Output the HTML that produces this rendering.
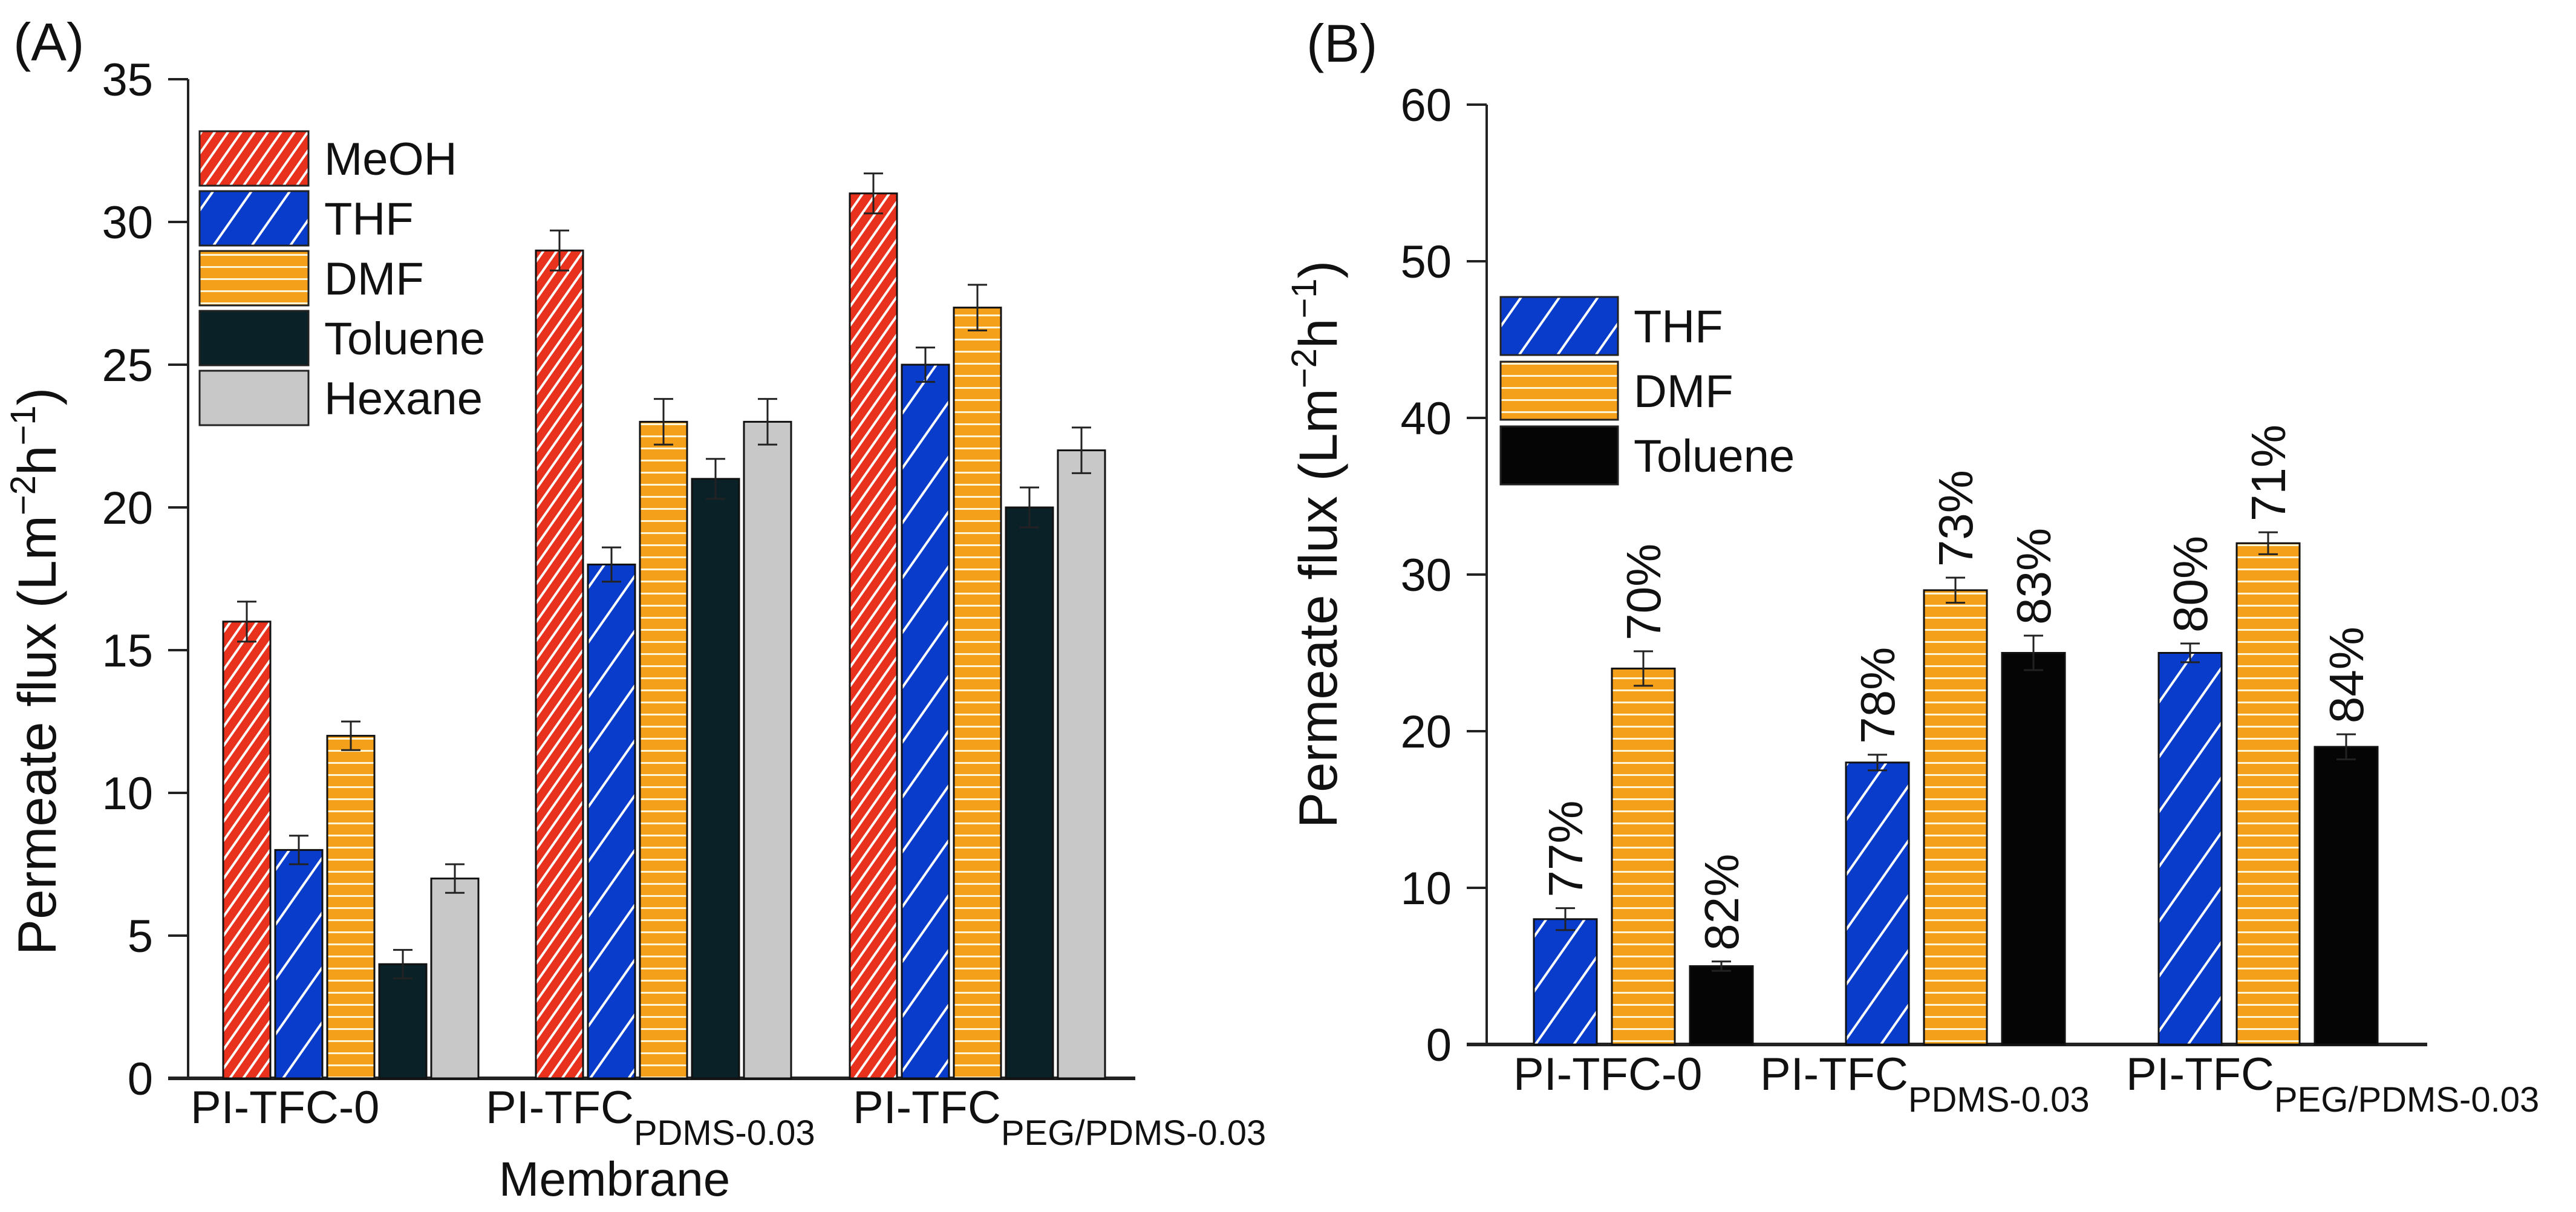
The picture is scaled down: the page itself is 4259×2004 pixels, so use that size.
<!DOCTYPE html>
<html><head><meta charset="utf-8"><style>
html,body{margin:0;padding:0;background:#fff}
svg{display:block}
text{font-family:"Liberation Sans",Arial,sans-serif;fill:#111}
</style></head><body>
<svg id="chart" width="4259" height="2004" viewBox="0 0 4259 2004" xmlns="http://www.w3.org/2000/svg">
<defs>
<pattern id="pRed" patternUnits="userSpaceOnUse" width="18" height="18" patternTransform="rotate(35)"><rect width="18" height="18" fill="#e8321e"/><rect x="0" y="0" width="4" height="18" fill="#fff"/></pattern>
<pattern id="pBlue" patternUnits="userSpaceOnUse" width="52" height="52" patternTransform="rotate(35)"><rect width="52" height="52" fill="#0a3ccc"/><rect x="0" y="0" width="4" height="52" fill="#fff"/></pattern>
<pattern id="pOrange" patternUnits="userSpaceOnUse" width="20" height="20"><rect width="20" height="20" fill="#f5a01a"/><rect x="0" y="0" width="20" height="3" fill="#fff6d8"/></pattern>
</defs>
<g id="panelA"></g>
<g id="panelB"></g>
</svg>
<script>
// Panel A data
const catsA = ["PI-TFC-0", "PI-TFC PDMS-0.03", "PI-TFC PEG/PDMS-0.03"];
const seriesA = ["MeOH", "THF", "DMF", "Toluene", "Hexane"];
const meohA = [16, 29, 31];
const thfA = [8, 18, 25];
const dmfA = [12, 23, 27];
const tolA = [4, 21, 20];
const hexA = [7, 23, 22];
const errMeohA = [0.7, 0.7, 0.7];
const errThfA = [0.5, 0.6, 0.6];
const errDmfA = [0.5, 0.8, 0.8];
const errTolA = [0.5, 0.7, 0.7];
const errHexA = [0.5, 0.8, 0.8];
const ticksA = [0, 5, 10, 15, 20, 25, 30, 35];
// Panel B data
const catsB = ["PI-TFC-0", "PI-TFC PDMS-0.03", "PI-TFC PEG/PDMS-0.03"];
const seriesB = ["THF", "DMF", "Toluene"];
const thfB = [8, 18, 25];
const dmfB = [24, 29, 32];
const tolB = [5, 25, 19];
const errThfB = [0.7, 0.5, 0.6];
const errDmfB = [1.1, 0.8, 0.7];
const errTolB = [0.3, 1.1, 0.8];
const pctThfB = ["77%", "78%", "80%"];
const pctDmfB = ["70%", "73%", "71%"];
const pctTolB = ["82%", "83%", "84%"];
const ticksB = [0, 10, 20, 30, 40, 50, 60];

const NS = "http://www.w3.org/2000/svg";
function mk(tag, attrs, parent) {
  const e = document.createElementNS(NS, tag);
  for (const k in attrs) e.setAttribute(k, attrs[k]);
  parent.appendChild(e);
  return e;
}

function drawPanel(g, cfg) {
  const y = v => cfg.y0 - (v - 0) * cfg.ppu;
  const ya = mk("line", {x1: cfg.ax, y1: y(cfg.ymax), x2: cfg.ax, y2: cfg.y0, stroke: "#222", "stroke-width": 4}, g);
  
  
  const xa = mk("line", {x1: cfg.ax - 33, y1: cfg.y0, x2: cfg.axEnd, y2: cfg.y0, stroke: "#222", "stroke-width": 6}, g);
  
  
  cfg.ticks.forEach(t => {
    const tl = mk("line", {x1: cfg.ax - 33, y1: y(t), x2: cfg.ax, y2: y(t), stroke: "#222", "stroke-width": 4}, g);
    
    
    const tx = mk("text", {x: cfg.ax - 58, y: y(t) + 27, "text-anchor": "end", "font-size": 76}, g);
    tx.textContent = t;
    
    
  });
  cfg.series.forEach((s, si) => {
    const vals = cfg.values[si], errs = cfg.errs[si];
    vals.forEach((v, ci) => {
      const cx = cfg.groupC[ci] + (si - (cfg.series.length - 1) / 2) * cfg.pitch;
      const bx = cx - cfg.bw / 2;
      const r = mk("rect", {x: bx, y: y(v), width: cfg.bw, height: cfg.y0 - y(v), fill: cfg.fills[si], stroke: "#111", "stroke-width": 3}, g);
      
      
      const e = errs[ci];
      const eb = mk("path", {d: `M${cx},${y(v + e)}V${y(v - e)}M${cx - 16},${y(v + e)}H${cx + 16}M${cx - 16},${y(v - e)}H${cx + 16}`, stroke: "#222", "stroke-width": 3, fill: "none"}, g);
      
      
      if (cfg.pcts) {
        const px = cx + 28, py = y(v + e) - 18;
        const pt = mk("text", {x: px, y: py, "font-size": 80, transform: `rotate(-90 ${px} ${py})`}, g);
        pt.textContent = cfg.pcts[si][ci];
        
        
      }
    });
  });
  cfg.cats.forEach((c, ci) => {
    const parts = c.split(" ");
    const t = mk("text", {x: cfg.catX[ci], y: cfg.catY, "font-size": 76}, g);
    
    
    const m = mk("tspan", {}, t); m.textContent = parts[0];
    if (parts[1]) { const sb = mk("tspan", {dy: 36, "font-size": 58}, t); sb.textContent = parts[1]; }
  });
  cfg.series.forEach((s, si) => {
    const ly = cfg.legY + si * cfg.legPitch;
    const lr = mk("rect", {x: cfg.legX, y: ly, width: cfg.legW, height: cfg.legH, fill: cfg.fills[si], stroke: "#222", "stroke-width": 3}, g);
    
    
    const lt = mk("text", {x: cfg.legX + cfg.legW + 26, y: ly + cfg.legH / 2 + 27, "font-size": 76}, g);
    lt.textContent = s;
    
    
  });
  const tt = mk("text", {x: cfg.titleX, y: cfg.titleY, "text-anchor": "middle", "font-size": 89, transform: `rotate(-90 ${cfg.titleX} ${cfg.titleY})`}, g);
  
  
  const a = mk("tspan", {}, tt); a.textContent = "Permeate flux (Lm";
  const b = mk("tspan", {dy: -34, "font-size": 58}, tt); b.textContent = "\u22122";
  const c = mk("tspan", {dy: 34}, tt); c.textContent = "h";
  const d = mk("tspan", {dy: -34, "font-size": 58}, tt); d.textContent = "\u22121";
  const f = mk("tspan", {dy: 34}, tt); f.textContent = ")";
  const pl = mk("text", {x: cfg.letterX, y: cfg.letterY, "font-size": 88}, g);
  pl.textContent = cfg.letter;
  
  
}

drawPanel(document.getElementById("panelA"), {
  y0: 1783, ppu: 47.2, ymax: 35, ax: 311, axEnd: 1877, ticks: ticksA,
  series: seriesA, values: [meohA, thfA, dmfA, tolA, hexA], errs: [errMeohA, errThfA, errDmfA, errTolA, errHexA],
  fills: ["url(#pRed)", "url(#pBlue)", "url(#pOrange)", "#0a2128", "#c8c8c8"],
  groupC: [580, 1097, 1616], pitch: 86, bw: 78,
  cats: catsA, catX: [315, 803, 1410], catY: 1857,
  legX: 330, legY: 217, legPitch: 99, legW: 180, legH: 90,
  titleX: 92, titleY: 1110, letter: "(A)", letterX: 22, letterY: 100
});
const mt = document.createElementNS(NS, "text");
mt.setAttribute("x", 1016); mt.setAttribute("y", 1977); mt.setAttribute("text-anchor", "middle"); mt.setAttribute("font-size", 80);
mt.textContent = "Membrane";


document.getElementById("panelA").appendChild(mt);

drawPanel(document.getElementById("panelB"), {
  y0: 1727, ppu: 25.9, ymax: 60, ax: 2458, axEnd: 4013, ticks: ticksB,
  series: seriesB, values: [thfB, dmfB, tolB], errs: [errThfB, errDmfB, errTolB],
  pcts: [pctThfB, pctDmfB, pctTolB],
  fills: ["url(#pBlue)", "url(#pOrange)", "#050505"],
  groupC: [2717, 3233, 3750], pitch: 129, bw: 104,
  cats: catsB, catX: [2502, 2910, 3515], catY: 1802,
  legX: 2481, legY: 491, legPitch: 107, legW: 194, legH: 96,
  titleX: 2210, titleY: 900, letter: "(B)", letterX: 2160, letterY: 102
});
</script>
</body></html>
